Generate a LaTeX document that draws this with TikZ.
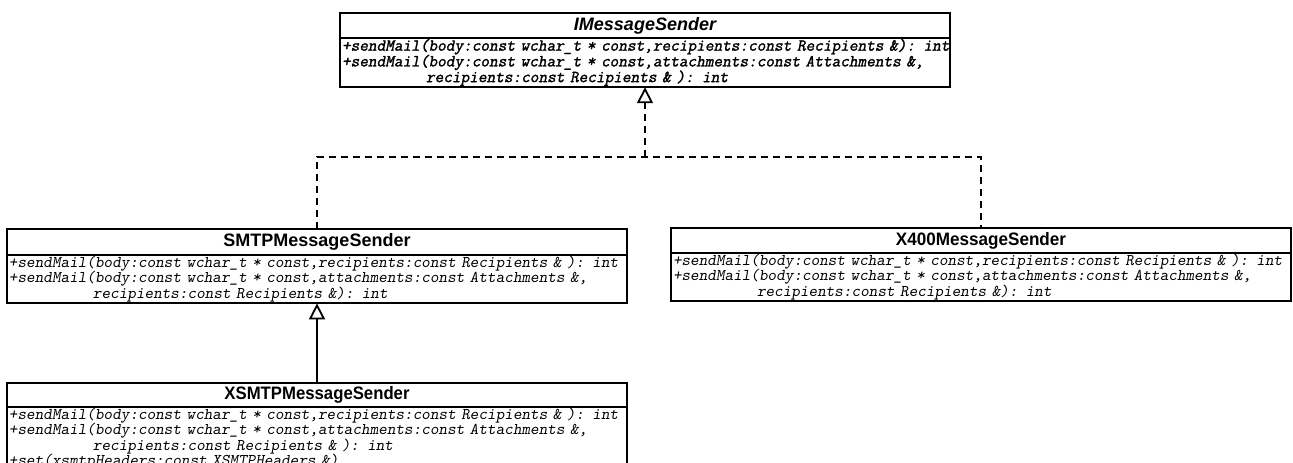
\documentclass[tikz,border=0pt]{standalone}
\usepackage{fontspec}
\usepackage{graphicx}
\setmainfont{Liberation Sans}
\newfontfamily\umlsans{Liberation Sans}
\newfontfamily\opboldmono{Latin Modern Mono}[FakeSlant=0.2, FakeBold=1.6]
\usetikzlibrary{arrows.meta}

% list of operations, one per row
\newcommand\oplist[1]{\begin{tabular}{@{}l@{}}#1\end{tabular}}
% hanging indent for wrapped parameter lists
\newcommand\wrapind{\hspace*{84pt}}
% slanted typewriter with a full-width space
\newcommand\opfont{\ttfamily\slshape\fontsize{16.4}{13.6}\selectfont
  \spaceskip=\fontcharwd\font`x\relax}
% emboldened variant for abstract operations
\newcommand\abstractopfont{\opboldmono\fontsize{16.8}{13.6}\selectfont
  \spaceskip=\fontcharwd\font`x\relax}

\begin{document}
\begin{tikzpicture}[x=1pt,y=-1pt,
  classname/.style={draw=black, line width=1.8pt, rectangle, inner sep=0pt,
    outer sep=0pt, anchor=north west, minimum width=#1,
    font=\umlsans\bfseries\fontsize{18}{20}\selectfont},
  classops/.style={draw=black, line width=1.8pt, rectangle, anchor=north,
    outer sep=0pt, inner xsep=2pt, inner ysep=1pt, align=left, font=\opfont},
  realize/.style={line width=1.8pt, dash pattern=on 7pt off 5pt},
  inherit/.style={line width=1.8pt},
  hollow/.style={-{Triangle[open,length=16pt,width=16pt]}}
]
\useasboundingbox (0,0) rectangle (1293,463);
\clip (0,0) rectangle (1293,463);

% interface
\node[classname=610pt, minimum height=25pt] (imsg) at (340,13)
  {\itshape IMessageSender};
\node[classops, minimum height=47pt, text width=606pt, font=\abstractopfont]
  (imsgops) at (imsg.south) {\oplist{%
+sendMail(body:const wchar\_t * const,recipients:const Recipients \&): int\\
+sendMail(body:const wchar\_t * const,attachments:const Attachments \&,\\
\wrapind recipients:const Recipients \& ): int}};

% SMTP implementation
\node[classname=620pt, minimum height=26pt] (smtp) at (7,229) {SMTPMessageSender};
\node[classops, minimum height=46pt, text width=616pt] (smtpops) at (smtp.south) {\oplist{%
+sendMail(body:const wchar\_t * const,recipients:const Recipients \& ): int\\
+sendMail(body:const wchar\_t * const,attachments:const Attachments \&,\\
\wrapind recipients:const Recipients \&): int}};

% X.400 implementation
\node[classname=620pt, minimum height=25pt] (x400) at (671,228)
  {\scalebox{0.95}[1]{X400MessageSender}};
\node[classops, minimum height=46pt, text width=616pt] (x400ops) at (x400.south) {\oplist{%
+sendMail(body:const wchar\_t * const,recipients:const Recipients \& ): int\\
+sendMail(body:const wchar\_t * const,attachments:const Attachments \&,\\
\wrapind recipients:const Recipients \&): int}};

% extended SMTP sender
\node[classname=620pt, minimum height=24pt] (xsmtp) at (7,383)
  {\scalebox{0.93}[1]{XSMTPMessageSender}};
\node[classops, text width=616pt] (xsmtpops) at (xsmtp.south) {\oplist{%
+sendMail(body:const wchar\_t * const,recipients:const Recipients \& ): int\\
+sendMail(body:const wchar\_t * const,attachments:const Attachments \&,\\
\wrapind recipients:const Recipients \& ): int\\
+set(xsmtpHeaders:const XSMTPHeaders \&)}};

% realization of the interface
\coordinate (split) at (645,157);
\draw[realize] (smtp.north) |- (split) -| (x400.north);
\draw[realize, hollow] (split) -- (imsgops.south);

% generalization
\draw[inherit, hollow] (xsmtp.north) -- (smtpops.south);
\end{tikzpicture}
\end{document}
